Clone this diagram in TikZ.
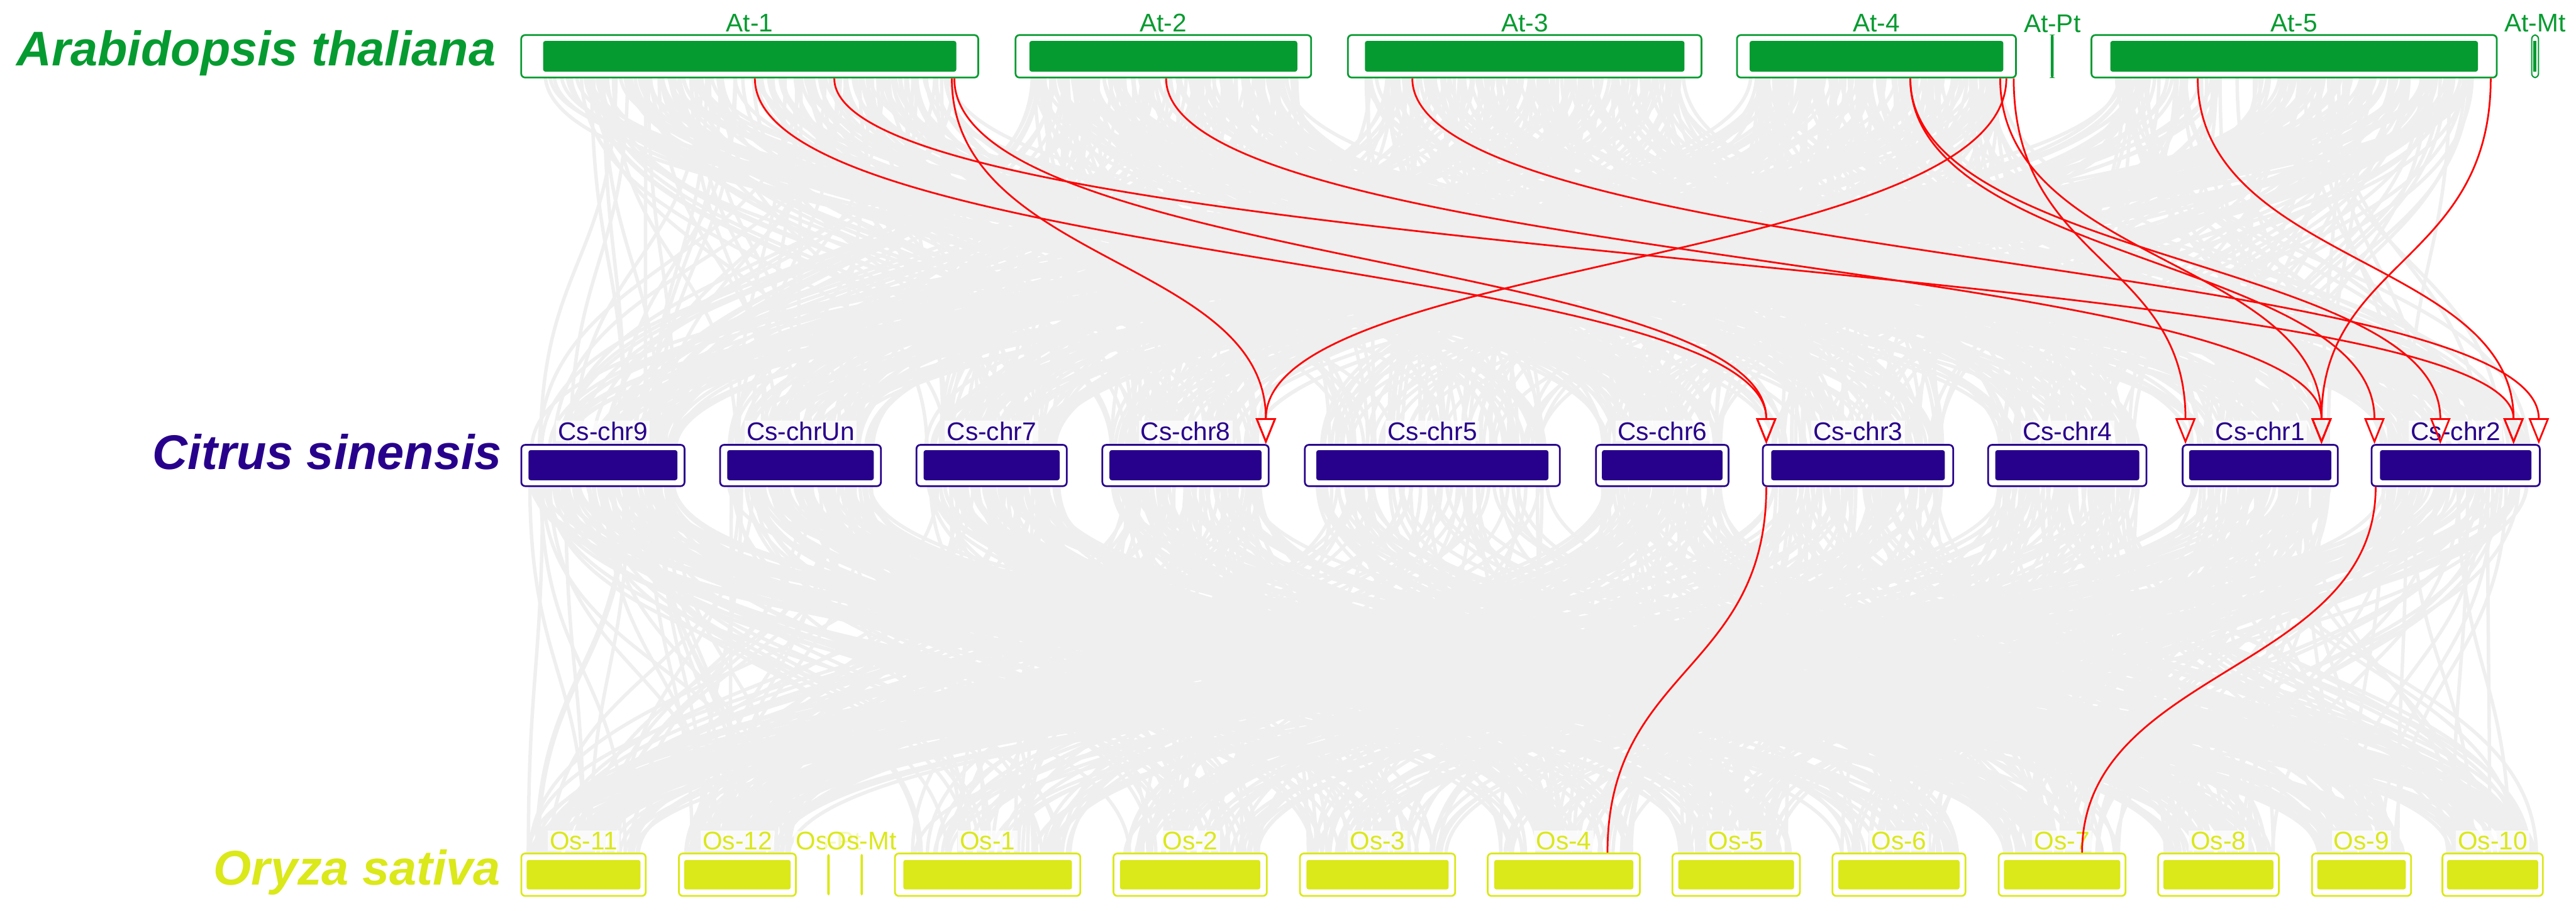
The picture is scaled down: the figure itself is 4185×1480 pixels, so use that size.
\documentclass[tikz,border=0pt]{standalone}
\usepackage{fontspec}
\setmainfont{Liberation Sans}
\usetikzlibrary{arrows.meta,calc}
\definecolor{AtGreen}{HTML}{069B30}
\definecolor{CsNavy}{HTML}{27008B}
\definecolor{OsLime}{HTML}{DBE819}
\definecolor{LinkGray}{HTML}{EFEFEF}
\definecolor{LinkRed}{HTML}{FF0000}
\tikzset{
chrbox/.style={rounded corners=1.8pt, line width=0.8pt, fill=white, inner sep=0pt},
chrlab/.style={font=\fontsize{11.8}{13}\selectfont, fill=white, fill opacity=0.7, text opacity=1,
  inner xsep=1pt, inner ysep=0.5pt, anchor=base},
species/.style={font=\fontsize{22.5}{27}\selectfont\bfseries\itshape, anchor=base east, inner sep=0pt},
graylink/.style={LinkGray, line width=1.6pt},
redlink/.style={LinkRed, line width=0.8pt},
redarrow/.style={redlink, -{Triangle[open, length=0.42cm, width=0.33cm]}}
}
% inner start / length of each chromosome bar, used for the background links
\def\atX{{884,1674,2219,2844,3430}}
\def\atW{{668,433,516,409,593}}
\def\csX{{860,1183,1503,1805,2140,2603,2879,3243,3558,3868}}
\def\csW{{238,235,218,243,374,193,278,232,227,243}}
\def\osX{{857,1112,1470,1821,2123,2430,2728,2988,3257,3517,3765,3977}}
\def\osW{{182,171,270,224,228,222,185,194,185,177,141,145}}

\begin{document}
\begin{tikzpicture}[x=0.01cm, y=-0.01cm]
\useasboundingbox (0,0) rectangle (4185,1480);

% background collinear links
\pgfmathsetseed{42}
\foreach \k in {1,...,850}{
  \pgfmathtruncatemacro\ia{random(0,4)}
  \pgfmathtruncatemacro\ib{random(0,9)}
  \pgfmathsetmacro\xa{\atX[\ia]+rnd*\atW[\ia]}
  \pgfmathsetmacro\xb{\csX[\ib]+rnd*\csW[\ib]}
  \draw[graylink] (\xa,120) .. controls (\xa,425) and (\xb,425) .. (\xb,730);
}
\foreach \k in {1,...,850}{
  \pgfmathtruncatemacro\ia{random(0,9)}
  \pgfmathtruncatemacro\ib{random(0,11)}
  \pgfmathsetmacro\xa{\csX[\ia]+rnd*\csW[\ia]}
  \pgfmathsetmacro\xb{\osX[\ib]+rnd*\osW[\ib]}
  \draw[graylink] (\xa,785) .. controls (\xa,1090) and (\xb,1090) .. (\xb,1392);
}

% species names
\node[species, text=AtGreen] (atname) at (806,107) {Arabidopsis thaliana};
\node[species, text=CsNavy] (csname) at (816,763) {Citrus sinensis};
\node[species, text=OsLime] (osname) at (814,1438) {Oryza sativa};

% Arabidopsis chromosomes
\foreach \nm/\lab/\xa/\xb/\ins in {at1/At-1/847/1589/37, at2/At-2/1650/2130/24,
    at3/At-3/2190/2764/29, at4/At-4/2822/3275/22, at5/At-5/3398/4056/32}{
  \pgfmathsetmacro\xc{(\xa+\xb)/2}
  \pgfmathsetmacro\chrw{(\xb-\xa)/100}
  \node[chrbox, draw=AtGreen, minimum width=\chrw cm, minimum height=0.69cm] (\nm) at (\xc,91.5) {};
  \fill[AtGreen, rounded corners=1pt] ($(\nm.south west)+(\ins,-11)$) rectangle ($(\nm.north east)+(-\ins,11)$);
  \node[chrlab, text=AtGreen] (\nm-l) at ([yshift=0.4mm]\nm.north) {\lab};
}
\node[draw=AtGreen, fill=AtGreen, rounded corners=0.8pt, line width=0.4pt, inner sep=0pt,
  minimum width=0.03cm, minimum height=0.69cm] (atpt) at (3334,91.5) {};
\node[chrlab, text=AtGreen] (atpt-l) at ([yshift=0.4mm]atpt.north) {At-Pt};
\node[chrbox, draw=AtGreen, line width=0.6pt, minimum width=0.11cm, minimum height=0.69cm] (atmt) at (4118.5,91.5) {};
\fill[AtGreen] ($(atmt.south west)+(4,-11)$) rectangle ($(atmt.north east)+(-4,11)$);
\node[chrlab, text=AtGreen] (atmt-l) at ([yshift=0.4mm]atmt.north) {At-Mt};

% Citrus chromosomes
\foreach \nm/\lab/\xa/\xb/\ins in {cs9/Cs-chr9/847/1112/13, csun/Cs-chrUn/1170/1431/13,
    cs7/Cs-chr7/1489/1733/13, cs8/Cs-chr8/1791/2061/13, cs5/Cs-chr5/2120/2534/20,
    cs6/Cs-chr6/2593/2808/11, cs3/Cs-chr3/2864/3173/15, cs4/Cs-chr4/3230/3487/13,
    cs1/Cs-chr1/3546/3798/12, cs2/Cs-chr2/3853/4126/15}{
  \pgfmathsetmacro\xc{(\xa+\xb)/2}
  \pgfmathsetmacro\chrw{(\xb-\xa)/100}
  \node[chrbox, draw=CsNavy, minimum width=\chrw cm, minimum height=0.67cm] (\nm) at (\xc,756.5) {};
  \fill[CsNavy, rounded corners=1pt] ($(\nm.south west)+(\ins,-11)$) rectangle ($(\nm.north east)+(-\ins,10)$);
  \node[chrlab, text=CsNavy] (\nm-l) at ([yshift=0.6mm]\nm.north) {\lab};
}

% Oryza chromosomes
\foreach \nm/\lab/\xa/\xb/\ins in {os11/Os-11/847/1049/10, os12/Os-12/1103/1293/10,
    os1/Os-1/1454/1755/15, os2/Os-2/1809/2058/12, os3/Os-3/2112/2364/12,
    os4/Os-4/2417/2664/12, os5/Os-5/2717/2924/11, os6/Os-6/2977/3193/11,
    os7/Os-7/3247/3453/10, os8/Os-8/3506/3702/10, os9/Os-9/3756/3917/10,
    os10/Os-10/3968/4131/9}{
  \pgfmathsetmacro\xc{(\xa+\xb)/2}
  \pgfmathsetmacro\chrw{(\xb-\xa)/100}
  \node[chrbox, draw=OsLime, minimum width=\chrw cm, minimum height=0.69cm] (\nm) at (\xc,1421.5) {};
  \fill[OsLime, rounded corners=1pt] ($(\nm.south west)+(\ins,-12)$) rectangle ($(\nm.north east)+(-\ins,12)$);
  \node[chrlab, text=OsLime] (\nm-l) at ([yshift=0.5mm]\nm.north) {\lab};
}
\node[fill=OsLime, rounded corners=0.8pt, inner sep=0pt,
  minimum width=0.04cm, minimum height=0.67cm] (ospt) at (1346,1421.5) {};
\node[fill=OsLime, rounded corners=0.8pt, inner sep=0pt,
  minimum width=0.04cm, minimum height=0.67cm] (osmt) at (1400,1421.5) {};
\node[chrlab, text=OsLime] (ospt-l) at ([yshift=0.6mm]ospt.north) {Os-Pt};
\node[chrlab, text=OsLime] (osmt-l) at ([yshift=0.6mm]osmt.north) {Os-Mt};

% highlighted links, Arabidopsis to Citrus
\foreach \src/\sx/\dst/\dx in {at1/381/cs3/7, at1/701/cs8/267, at1/705/cs3/7,
    at1/510/cs2/232, at2/246/cs1/227, at3/106/cs2/273, at4/439/cs8/267,
    at4/451/cs1/6, at4/429/cs1/227, at4/283/cs2/6, at4/283/cs2/113,
    at5/174/cs2/232, at5/650/cs1/227}{
  \draw[redarrow] ($(\src.south west)+(\sx,0)$) .. controls +(0,300) and +(0,-300) .. ($(\dst.north west)+(\dx,0)$);
}
% highlighted links, Citrus to Oryza
\draw[redlink] ($(cs3.south west)+(7,0)$) .. controls +(0,300) and +(0,-300) .. ($(os4.north west)+(196,0)$);
\draw[redlink] ($(cs2.south west)+(8,0)$) .. controls +(0,300) and +(0,-300) .. ($(os7.north west)+(137,0)$);
\end{tikzpicture}
\end{document}
